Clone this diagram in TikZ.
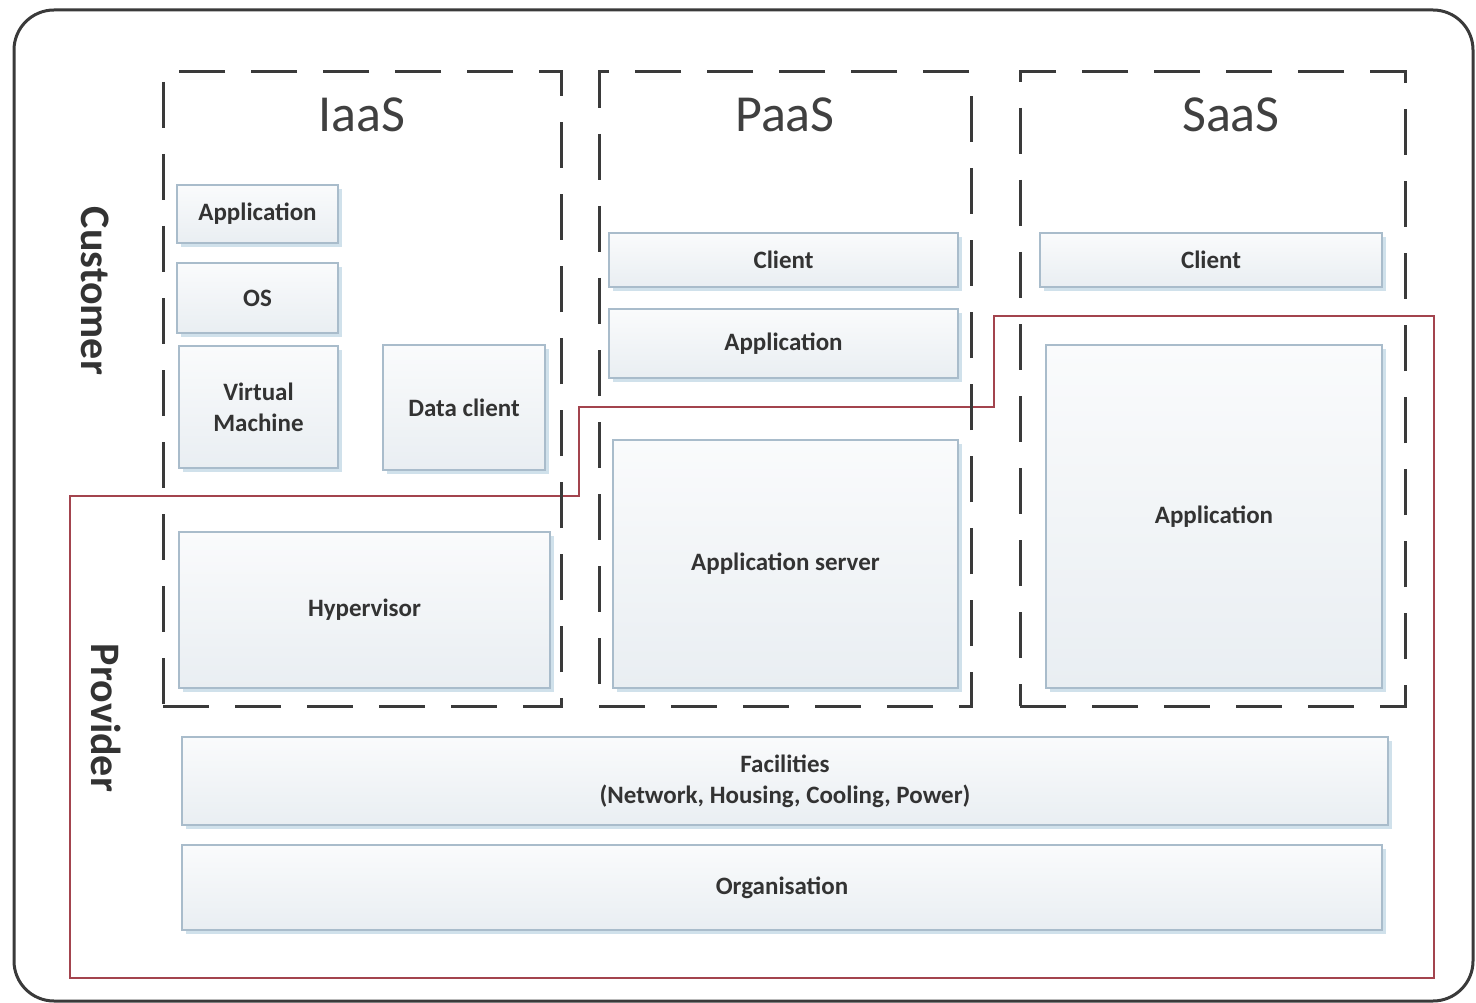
\documentclass[tikz,border=0pt]{standalone}
\usepackage{fontspec}
\setmainfont{Carlito}
\definecolor{boxline}{HTML}{A9BCCB}
\definecolor{boxtop}{HTML}{FAFBFC}
\definecolor{boxbot}{HTML}{E9EEF2}
\definecolor{shad}{HTML}{D0E1EB}
\definecolor{redl}{HTML}{A3444E}
\definecolor{txt}{HTML}{333333}
\definecolor{ttl}{HTML}{404040}
\definecolor{frame}{HTML}{3A3A3A}
\tikzset{
  lbox/.style={draw=boxline, line width=1.5pt, top color=boxtop, bottom color=boxbot,
    inner sep=0pt, outer sep=0pt, align=center, text=txt,
    font=\fontsize{25}{31}\selectfont\bfseries},
  dbox/.style={draw=frame, line width=3pt, dash pattern=on 46pt off 26pt,
    inner sep=0pt, outer sep=0pt},
  ttlstyle/.style={text=ttl, inner sep=0pt, font=\fontsize{52}{60}\selectfont},
  sidestyle/.style={text=txt, inner sep=0pt, rotate=-90, font=\fontsize{42}{48}\selectfont\bfseries},
}
\newcommand\mybox[6]{%
  \fill[shad] (#2+4,#3+4) rectangle (#4+4,#5+4);
  \node[lbox, minimum width={#4pt-#2pt}, minimum height={#5pt-#3pt}] (#1) at ({(#2+#4)/2},{(#3+#5)/2}) {#6};
}
\begin{document}
\begin{tikzpicture}[x=1pt,y=-1pt]
\useasboundingbox (0,0) rectangle (1476,1003);
\fill[white] (0,0) rectangle (1476,1003);
% outer frame
\draw[frame, line width=3pt, rounded corners=40pt] (14,10) rectangle (1473,1001);
% provider boundary
\draw[redl, line width=2.2pt] (70,496) -- (579,496) -- (579,407) -- (994,407) -- (994,316)
  -- (1434,316) -- (1434,978) -- (70,978) -- cycle;
% service model frames
\node[dbox, minimum width=398pt, minimum height=634pt] (iaas) at (362,389) {};
\node[dbox, minimum width=372pt, minimum height=634pt] (paas) at (785,389) {};
\node[dbox, minimum width=385pt, minimum height=634pt] (saas) at (1212.5,389) {};
\node[ttlstyle] (tiaas) at (362,115) {IaaS};
\node[ttlstyle] (tpaas) at (785,115) {PaaS};
\node[ttlstyle] (tsaas) at (1231,115) {SaaS};
% side labels
\node[sidestyle] (cust) at (95,291) {Customer};
\node[sidestyle] (prov) at (106,718) {Provider};
% IaaS boxes
\mybox{iapp}{177}{185}{338}{243}{Application}
\mybox{ios}{177}{263}{338}{333}{OS}
\mybox{ivm}{179}{346}{338}{468}{Virtual\\Machine}
\mybox{idc}{383}{345}{545}{470}{Data client}
\mybox{ihyp}{179}{532}{550}{688}{Hypervisor}
% PaaS boxes
\mybox{pcl}{609}{233}{958}{287}{Client}
\mybox{papp}{609}{309}{958}{378}{Application}
\mybox{pas}{613}{440}{958}{688}{Application server}
% SaaS boxes
\mybox{scl}{1040}{233}{1382}{287}{Client}
\mybox{sapp}{1046}{345}{1382}{688}{Application}
% shared layers
\mybox{fac}{182}{737}{1388}{825}{Facilities\\(Network, Housing, Cooling, Power)}
\mybox{org}{182}{845}{1382}{930}{Organisation}
\end{tikzpicture}
\end{document}
